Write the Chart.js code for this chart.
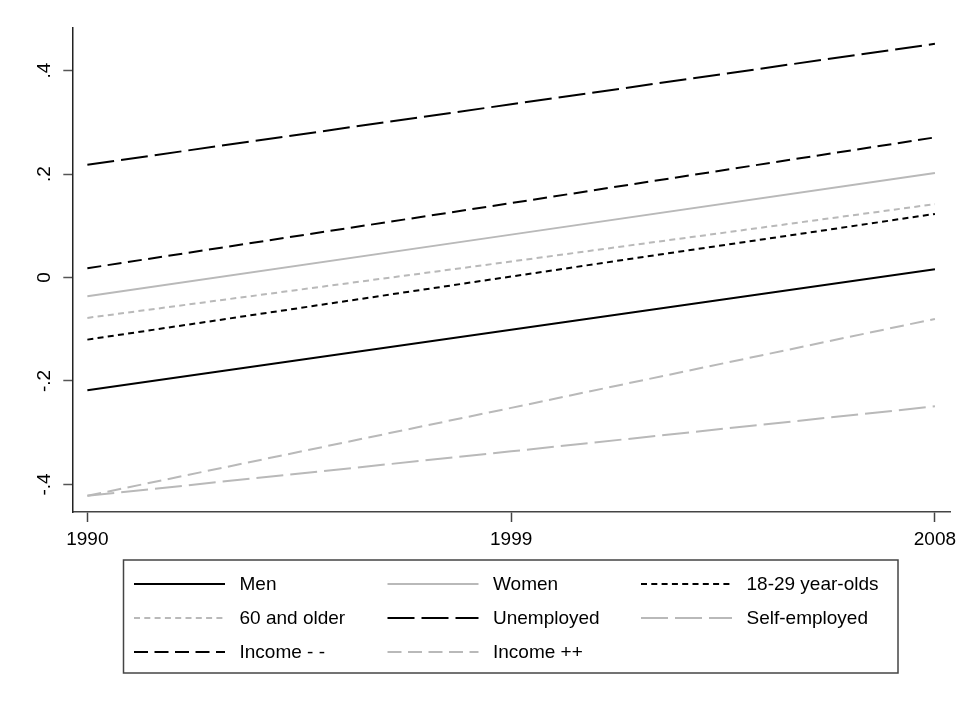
<!DOCTYPE html>
<html>
<head>
<meta charset="utf-8">
<script src="https://cdn.jsdelivr.net/npm/chart.js@4.4.1/dist/chart.umd.min.js"></script>
<style>
  html, body { margin: 0; padding: 0; background: #fff; }
</style>
</head>
<body>
<canvas id="chart" width="974" height="704"></canvas>
<script>
// DATA
const years = [1990, 1999, 2008];
const men = [-0.218, -0.101, 0.016];
const women = [-0.036, 0.083, 0.202];
const age1829 = [-0.120, 0.002, 0.123];
const age60 = [-0.078, 0.031, 0.142];
const unemployed = [0.218, 0.335, 0.452];
const selfEmployed = [-0.422, -0.336, -0.249];
const incomeLow = [0.018, 0.144, 0.271];
const incomeHigh = [-0.422, -0.252, -0.080];

const xTickValues = [1990, 1999, 2008];
const yTickValues = [-0.4, -0.2, 0, 0.2, 0.4];
const yTickLabels = ['-.4', '-.2', '0', '.2', '.4'];

const FONT = '"Liberation Sans", Arial, sans-serif';
const BLACK = '#000000';
const GRAY = '#b9b9b9';

function pts(values) {
    return years.map((x, i) => ({ x: x, y: values[i] }));
}

function series(label, values, color, dash) {
    return {
        label: label,
        data: pts(values),
        borderColor: color,
        borderWidth: 2,
        borderDash: dash,
        pointRadius: 0,
        tension: 0,
        fill: false
    };
}

// LEGEND (3 column grid, like the Stata one)
const legendGrid = {
    id: 'legendGrid',
    afterDraw(chart) {
        const ctx = chart.ctx;
        ctx.save();
        ctx.strokeStyle = '#444';
        ctx.lineWidth = 1.5;
        ctx.setLineDash([]);
        ctx.strokeRect(123.5, 560, 774.5, 113);

        chart.data.datasets.forEach((ds, i) => {
            const col = i % 3;
            const row = Math.floor(i / 3);
            const x = 134 + col * 253.5;
            const y = 584 + row * 34;
            ctx.strokeStyle = ds.borderColor;
            ctx.lineWidth = ds.borderWidth;
            ctx.setLineDash(ds.borderDash || []);
            ctx.beginPath();
            ctx.moveTo(x, y);
            ctx.lineTo(x + 91, y);
            ctx.stroke();
            ctx.setLineDash([]);
            ctx.fillStyle = '#000';
            ctx.font = '19px ' + FONT;
            ctx.textBaseline = 'middle';
            ctx.fillText(ds.label, x + 105.5, y + 0.5);
        });
        ctx.restore();
    }
};

const ctx = document.getElementById('chart').getContext('2d');
const chart = new Chart(ctx, {
    type: 'line',
    data: {
        datasets: [
            series('Men', men, BLACK, []),
            series('Women', women, GRAY, []),
            series('18-29 year-olds', age1829, BLACK, [6, 4.3]),
            series('60 and older', age60, GRAY, [6, 4.3]),
            series('Unemployed', unemployed, BLACK, [27, 7]),
            series('Self-employed', selfEmployed, GRAY, [27, 7]),
            series('Income - -', incomeLow, BLACK, [14, 6.5]),
            series('Income ++', incomeHigh, GRAY, [14, 6.5])
        ]
    },
    options: {
        responsive: false,
        animation: false,
        layout: { padding: { left: 0, right: 24, top: 28, bottom: 147 } },
        plugins: {
            legend: { display: false },
            tooltip: { enabled: false }
        },
        scales: {
            x: {
                type: 'linear',
                min: 1989.68,
                max: 2008.32,
                afterBuildTicks: s => { s.ticks = xTickValues.map(v => ({ value: v })); },
                afterFit: s => { s.height = 45; },
                ticks: {
                    autoSkip: false,
                    maxRotation: 0,
                    padding: 6,
                    color: '#000',
                    font: { family: FONT, size: 19 },
                    callback: v => String(v)
                },
                grid: { drawOnChartArea: false, drawTicks: true, tickLength: 10, tickColor: '#444', tickWidth: 1.5 },
                border: { display: true, color: '#444', width: 1.5 }
            },
            y: {
                min: -0.4533,
                max: 0.4825,
                afterBuildTicks: s => { s.ticks = yTickValues.map(v => ({ value: v })); },
                afterFit: s => { s.width = 72.3; },
                ticks: {
                    autoSkip: false,
                    minRotation: 90,
                    maxRotation: 90,
                    crossAlign: 'center',
                    padding: 7,
                    color: '#000',
                    font: { family: FONT, size: 19 },
                    callback: (v, i) => yTickLabels[i]
                },
                grid: { drawOnChartArea: false, drawTicks: true, tickLength: 9, tickColor: '#555', tickWidth: 1.5 },
                border: { display: true, color: '#222', width: 1.5 }
            }
        }
    },
    plugins: [legendGrid]
});
</script>
</body>
</html>
